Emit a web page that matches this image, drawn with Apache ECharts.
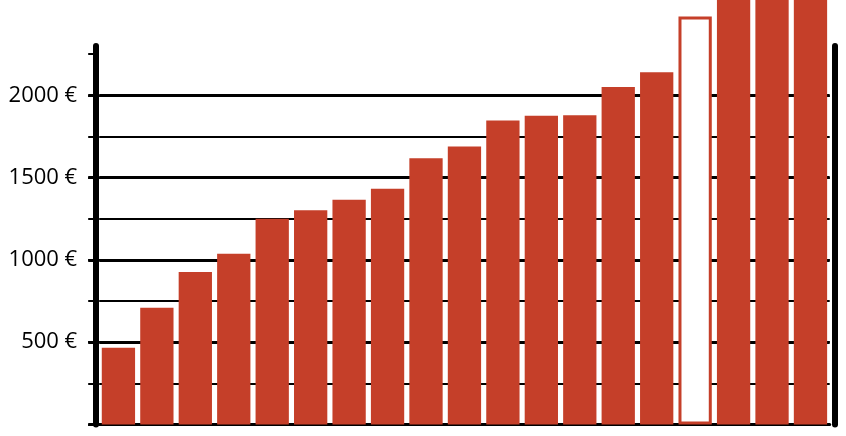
<!DOCTYPE html>
<html>
<head>
<meta charset="utf-8">
<script src="https://cdn.jsdelivr.net/npm/echarts@6/dist/echarts.min.js"></script>
<style>html,body{margin:0;padding:0;background:#fff}#c{width:846px;height:436px}</style>
</head>
<body>
<div id="c"></div>
<script>
const categories = ['1','2','3','4','5','6','7','8','9','10','11','12','13','14','15','16','17','18','19'];
const values = [467, 710, 927, 1038, 1250, 1302, 1366, 1433, 1618, 1690, 1848, 1876, 1879, 2051, 2140, 2479, 2700, 2700, 2700];
const outlinedIndex = 15;
const yMax = 2300;
const majorTicks = [0, 500, 1000, 1500, 2000];
const minorTicks = [0, 250, 500, 750, 1000, 1250, 1500, 1750, 2000, 2250];

const RED = '#c53f29';
const chart = echarts.init(document.getElementById('c'), null, {renderer: 'canvas'});
const data = values.map((v, i) => i === outlinedIndex
  ? {value: v, itemStyle: {color: '#ffffff', borderColor: RED, borderWidth: 3}}
  : {value: v});

chart.setOption({
  animation: false,
  backgroundColor: '#ffffff',
  grid: {left: 99.2, right: 16.3, top: 46, bottom: 11.5, containLabel: false, outerBoundsMode: 'none'},
  xAxis: {
    type: 'category', data: categories,
    axisLine: {show: true, lineStyle: {color: '#000', width: 3}},
    axisTick: {show: false}, axisLabel: {show: false}, splitLine: {show: false}
  },
  yAxis: [
    {
      type: 'value', position: 'left', offset: 3, min: 0, max: yMax, interval: 250,
      axisLine: {show: true, lineStyle: {color: '#000', width: 6}},
      axisTick: {show: true, length: 8, customValues: minorTicks, lineStyle: {color: '#000', width: 2}},
      axisLabel: {show: false},
      splitLine: {show: true, showMinLine: false, showMaxLine: false, lineStyle: {color: '#000', width: 2}}
    },
    {
      type: 'value', position: 'left', offset: 3, min: 0, max: yMax, interval: 500,
      axisLine: {show: false},
      axisTick: {show: true, length: 8, customValues: majorTicks, lineStyle: {color: '#000', width: 3}},
      axisLabel: {
        show: true, margin: 19, color: '#000', fontSize: 22, fontFamily: 'Open Sans',
        customValues: majorTicks,
        formatter: v => v > 0 ? v + ' €' : ''
      },
      splitLine: {show: true, showMinLine: false, lineStyle: {color: '#000', width: 3}}
    },
    {
      type: 'value', position: 'right', offset: 5, min: 0, max: yMax,
      axisLine: {show: true, lineStyle: {color: '#000', width: 6}},
      axisTick: {show: false}, axisLabel: {show: false}, splitLine: {show: false}
    }
  ],
  series: [{
    type: 'bar', data: data, yAxisIndex: 0, clip: false,
    barCategoryGap: '13.4%',
    itemStyle: {color: RED},
    z: 3
  }]
});
</script>
</body>
</html>
